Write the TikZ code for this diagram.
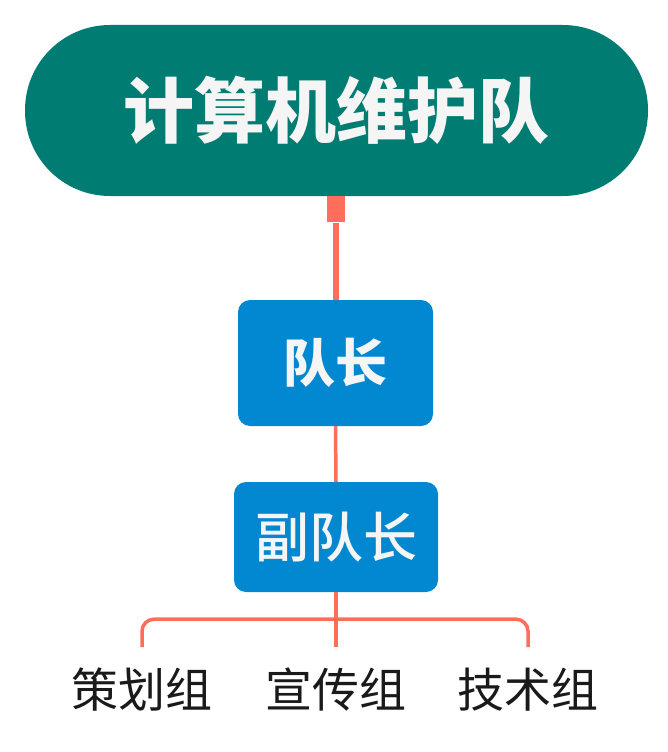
\documentclass[tikz,border=0pt]{standalone}
\usepackage{fontspec}
\newfontfamily\cjk{Noto Sans CJK SC}
\newfontfamily\cjkm{Noto Sans CJK SC Medium}
\definecolor{teal1}{HTML}{017C73}
\definecolor{blue1}{HTML}{0288D1}
\definecolor{line1}{HTML}{FF6E5A}
\definecolor{txtw}{HTML}{F5F5F5}
\definecolor{txtk}{HTML}{1A1A1A}
\tikzset{
  rootbox/.style={fill=teal1, draw=none, rounded corners=85pt, minimum width=623pt, minimum height=171pt, inner sep=0pt, text=txtw, font=\cjk\bfseries\fontsize{71}{80}\selectfont},
  leadbox/.style={fill=blue1, draw=none, rounded corners=12pt, inner sep=0pt, text=txtw},
  leaflabel/.style={inner sep=0pt, text=txtk, font=\cjk\fontsize{47}{54}\selectfont},
  conn/.style={draw=line1, line width=3.5pt},
}
\begin{document}
\begin{tikzpicture}[x=1pt,y=-1pt]
\useasboundingbox (0,0) rectangle (668,752);
\node[rootbox] (root) at (336.5,110.5) {计算机维护队};
\node[leadbox, minimum width=195pt, minimum height=126pt, font=\cjk\bfseries\fontsize{52}{60}\selectfont] (cap) at (335.5,363) {队长};
\node[leadbox, minimum width=204pt, minimum height=110pt, font=\cjkm\fontsize{54}{60}\selectfont] (vice) at (336,537) {副队长};
\node[leaflabel] (g1) at (142,690) {策划组};
\node[leaflabel] (g2) at (336,690) {宣传组};
\node[leaflabel] (g3) at (528,690) {技术组};
% root connector
\node[fill=line1, inner sep=0pt, minimum width=18pt, minimum height=26pt, anchor=north] (sq) at (root.south -| cap.north) {};
\draw[draw=line1, line width=6pt] (sq.south) -- (cap.north);
\draw[conn] (cap.south) -- (vice.north);
\coordinate (bj) at ([yshift=-27pt]vice.south);
\draw[conn] (vice.south) -- (bj);
\draw[conn, rounded corners=12pt] ([yshift=43pt]g1.center) -- (g1.center |- bj) -- (g3.center |- bj) -- ([yshift=43pt]g3.center);
\draw[conn] (bj) -- ([yshift=43pt]g2.center);
\end{tikzpicture}
\end{document}
